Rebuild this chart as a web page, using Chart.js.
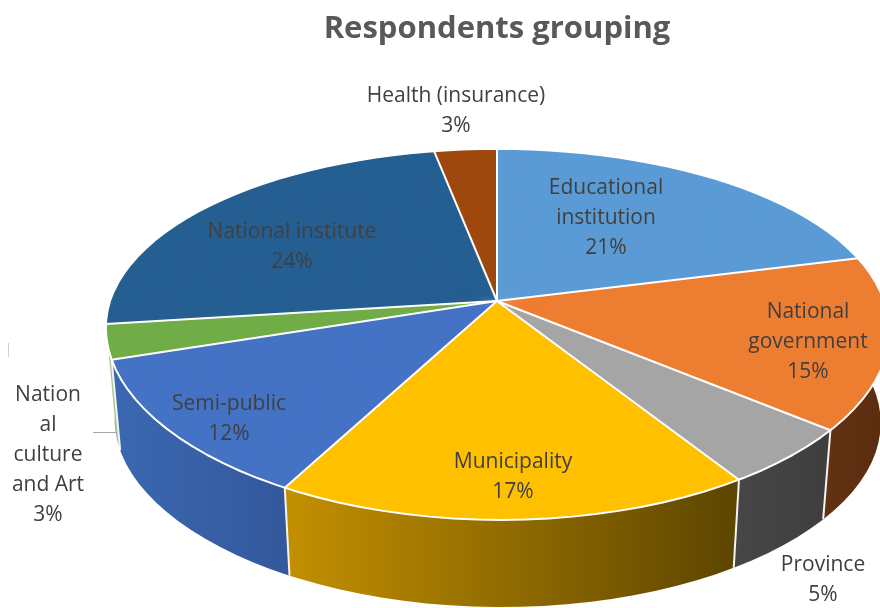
<!DOCTYPE html>
<html>
<head>
<meta charset="utf-8">
<title>Respondents grouping</title>
<script src="https://cdn.jsdelivr.net/npm/chart.js@4"></script>
<style>
  html, body { margin: 0; padding: 0; background: #fff; }
  canvas { display: block; }
</style>
</head>
<body>
<canvas id="groupChart" width="880" height="608"></canvas>
<script>
const chartTitle = 'Respondents grouping';
const categories = ['Educational institution', 'National government', 'Province', 'Municipality',
    'Semi-public', 'National culture and Art', 'National institute', 'Health (insurance)'];
const shares = [21, 15, 5, 17, 12, 3, 24, 3];
const labelLines = [
    ['Educational', 'institution'],
    ['National', 'government'],
    ['Province'],
    ['Municipality'],
    ['Semi-public'],
    ['Nation', 'al', 'culture', 'and Art'],
    ['National institute'],
    ['Health (insurance)']
];

const topColors = ['#5b9bd5', '#ed7d31', '#a5a5a5', '#ffc000', '#4472c4', '#70ad47', '#255e91', '#9e480e'];
// left and right colour of each side wall, null where the wall faces away
const wallColors = [null, ['#623212', '#5a2c0e'], ['#474747', '#3e3e3e'], ['#c39000', '#5c4500'],
    ['#3b68b2', '#33589b'], ['#a9c795', '#9dbf84'], null, null];

// label centres on the page, first line of each label
const labelPos = [[606, 188], [808, 312], [823, 565], [513, 462], [229, 404], [48, 395], [292, 232], [456, 96]];

// perspective of the pie disc
const disc = { x: 497, y: 301, rx: 387, ry: 179.5, tiltX: 0.155, tiltY: 0.18, lean: 4 };
const wall = { scale: 0.978, drop: 92 };
const segmentStep = Math.PI / 60;

function project(angle, scale = 1, drop = 0) {
    const sin = Math.sin(angle);
    return {
        x: disc.x + disc.lean * Math.max(sin, 0) + scale * disc.rx * Math.cos(angle) / (1 - disc.tiltX * sin),
        y: disc.y + drop + scale * disc.ry * sin / (1 - disc.tiltY * sin)
    };
}

// draws a short piece of an arc element with an affine map that puts its two
// ends on the projected rim
function drawPiece(ctx, arc, a0, a1) {
    const saved = [arc.startAngle, arc.endAngle, arc.circumference];
    const r = arc.outerRadius;
    const p0 = project(a0), p1 = project(a1);
    const tx0 = p0.x - disc.x, ty0 = p0.y - disc.y, tx1 = p1.x - disc.x, ty1 = p1.y - disc.y;
    const c0 = r * Math.cos(a0), s0 = r * Math.sin(a0), c1 = r * Math.cos(a1), s1 = r * Math.sin(a1);
    const det = c0 * s1 - c1 * s0;
    const m11 = (tx0 * s1 - tx1 * s0) / det;
    const m12 = (tx1 * c0 - tx0 * c1) / det;
    const m21 = (ty0 * s1 - ty1 * s0) / det;
    const m22 = (ty1 * c0 - ty0 * c1) / det;
    ctx.save();
    ctx.setTransform(m11, m21, m12, m22,
        disc.x - m11 * arc.x - m12 * arc.y,
        disc.y - m21 * arc.x - m22 * arc.y);
    arc.startAngle = a0;
    arc.endAngle = a1;
    arc.circumference = a1 - a0;
    arc.draw(ctx);
    ctx.restore();
    [arc.startAngle, arc.endAngle, arc.circumference] = saved;
}

function drawWall(ctx, arc, colors) {
    const bottom = [];
    const top = [];
    let minX = Infinity, maxX = -Infinity;
    for (let a = arc.startAngle; ; a += segmentStep) {
        const angle = Math.min(a, arc.endAngle);
        const p = project(angle);
        const q = project(angle, wall.scale, wall.drop);
        top.push(p);
        bottom.push(q);
        minX = Math.min(minX, p.x, q.x);
        maxX = Math.max(maxX, p.x, q.x);
        if (angle >= arc.endAngle) break;
    }
    const grad = ctx.createLinearGradient(minX, 0, maxX, 0);
    grad.addColorStop(0, colors[0]);
    grad.addColorStop(1, colors[1]);
    ctx.fillStyle = grad;
    ctx.beginPath();
    top.forEach((p, i) => i ? ctx.lineTo(p.x, p.y) : ctx.moveTo(p.x, p.y));
    bottom.reverse().forEach(p => ctx.lineTo(p.x, p.y));
    ctx.closePath();
    ctx.fill();
}

const pie3d = {
    id: 'pie3d',
    beforeDatasetDraw(chart, args) {
        const ctx = chart.ctx;
        const arcs = args.meta.data;

        arcs.forEach((arc, i) => {
            if (wallColors[i]) drawWall(ctx, arc, wallColors[i]);
        });

        // white edges between the walls
        ctx.save();
        ctx.strokeStyle = '#f4f4f4';
        ctx.lineWidth = 2;
        arcs.forEach((arc, i) => {
            if (!wallColors[i] || !wallColors[i + 1]) return;
            const p = project(arc.endAngle);
            const q = project(arc.endAngle, wall.scale, wall.drop);
            ctx.beginPath();
            ctx.moveTo(p.x, p.y);
            ctx.lineTo(q.x, q.y);
            ctx.stroke();
        });
        ctx.restore();

        // top face, slice by slice; each piece spans two steps so it covers
        // the soft edge of the one before
        arcs.forEach(arc => {
            for (let a = arc.startAngle; a < arc.endAngle; a += segmentStep) {
                drawPiece(ctx, arc, a, Math.min(a + segmentStep * 2, arc.endAngle));
            }
        });

        ctx.save();
        ctx.strokeStyle = '#ffffff';
        ctx.lineWidth = 2;
        ctx.lineJoin = 'round';
        ctx.beginPath();
        for (let a = 0; a <= Math.PI * 2 + segmentStep; a += segmentStep) {
            const p = project(a);
            a ? ctx.lineTo(p.x, p.y) : ctx.moveTo(p.x, p.y);
        }
        ctx.stroke();
        arcs.forEach(arc => {
            const p = project(arc.startAngle);
            ctx.beginPath();
            ctx.moveTo(disc.x, disc.y);
            ctx.lineTo(p.x, p.y);
            ctx.stroke();
        });
        ctx.restore();
        return false;
    },
    afterDatasetsDraw(chart) {
        const ctx = chart.ctx;
        ctx.save();

        // leader of the outside label, and the short stub left of it
        ctx.strokeStyle = '#a6a6a6';
        ctx.lineWidth = 1;
        ctx.beginPath();
        ctx.moveTo(93, 432.5);
        ctx.lineTo(117, 432.5);
        ctx.stroke();
        ctx.strokeStyle = '#d0d0d0';
        ctx.beginPath();
        ctx.moveTo(8.5, 343);
        ctx.lineTo(8.5, 357);
        ctx.stroke();

        ctx.font = '21px "Open Sans"';
        ctx.textAlign = 'center';
        ctx.textBaseline = 'middle';
        ctx.fillStyle = '#404040';
        labelLines.forEach((lines, i) => {
            const [x, y] = labelPos[i];
            const all = lines.concat(shares[i] + '%');
            all.forEach((line, n) => ctx.fillText(line, x, y + n * 30));
        });
        ctx.restore();
    }
};

new Chart(document.getElementById('groupChart'), {
    type: 'pie',
    data: {
        labels: categories,
        datasets: [{
            data: shares,
            backgroundColor: topColors,
            borderWidth: 0
        }]
    },
    options: {
        responsive: false,
        animation: false,
        layout: { padding: { left: 114 } },
        plugins: {
            legend: { display: false },
            tooltip: { enabled: false },
            title: {
                display: true,
                text: chartTitle,
                fullSize: false,
                color: '#595959',
                font: { family: '"Open Sans"', size: 31, weight: 'bold' },
                padding: { top: 11, bottom: 8 }
            }
        }
    },
    plugins: [pie3d]
});
</script>
</body>
</html>
